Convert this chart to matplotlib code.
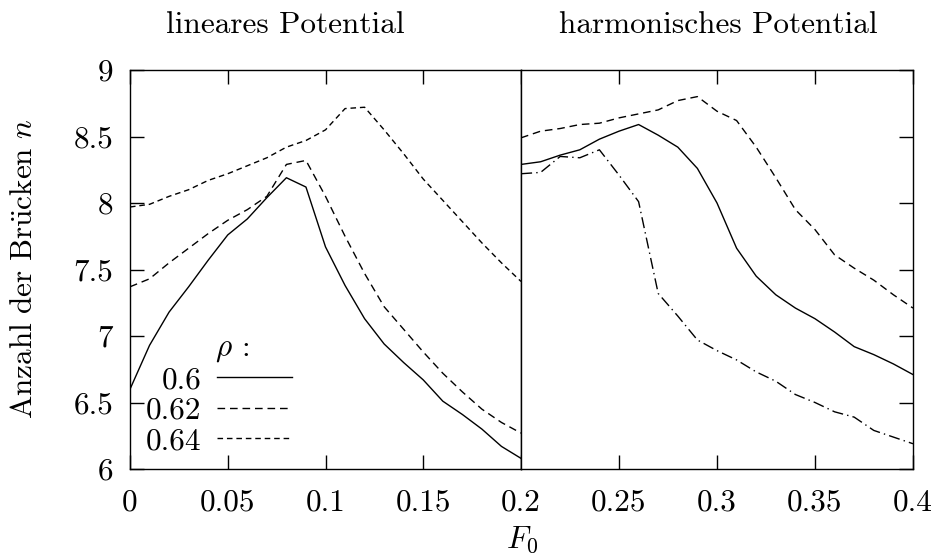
import numpy as np
import matplotlib
matplotlib.use("Agg")
import matplotlib.pyplot as plt

plt.rcParams['font.family'] = 'serif'
plt.rcParams['font.serif'] = ['cmr10']
plt.rcParams['mathtext.fontset'] = 'cm'
plt.rcParams['axes.unicode_minus'] = False

# linear potential, F0 = 0 .. 0.2
F_lin = [0.0, 0.01, 0.02, 0.03, 0.04, 0.05, 0.06, 0.07, 0.08, 0.09, 0.10,
         0.11, 0.12, 0.13, 0.14, 0.15, 0.16, 0.17, 0.18, 0.19, 0.20]
lin_060 = [6.60, 6.93, 7.18, 7.37, 7.57, 7.76, 7.88, 8.04, 8.19, 8.12, 7.67,
           7.38, 7.13, 6.94, 6.80, 6.67, 6.51, 6.41, 6.30, 6.17, 6.08]
lin_062 = [7.37, 7.43, 7.55, 7.66, 7.77, 7.87, 7.95, 8.05, 8.29, 8.32, 8.05,
           7.75, 7.47, 7.22, 7.05, 6.88, 6.72, 6.58, 6.45, 6.35, 6.27]
lin_064 = [7.97, 7.99, 8.05, 8.10, 8.17, 8.22, 8.28, 8.34, 8.42, 8.47, 8.55,
           8.71, 8.72, 8.55, 8.37, 8.18, 8.02, 7.86, 7.70, 7.55, 7.41]

# harmonic potential, F0 = 0.2 .. 0.4
F_harm = [0.20, 0.21, 0.22, 0.23, 0.24, 0.25, 0.26, 0.27, 0.28, 0.29, 0.30,
          0.31, 0.32, 0.33, 0.34, 0.35, 0.36, 0.37, 0.38, 0.39, 0.40]
harm_a = [8.29, 8.31, 8.36, 8.40, 8.48, 8.54, 8.59, 8.51, 8.42, 8.26, 8.00,
          7.66, 7.45, 7.31, 7.21, 7.13, 7.03, 6.92, 6.86, 6.79, 6.71]
harm_b = [8.49, 8.54, 8.56, 8.59, 8.60, 8.64, 8.67, 8.70, 8.77, 8.80, 8.69,
          8.62, 8.42, 8.19, 7.95, 7.80, 7.61, 7.51, 7.42, 7.31, 7.21]
harm_c = [8.22, 8.23, 8.35, 8.34, 8.40, 8.21, 8.01, 7.32, 7.15, 6.97, 6.89,
          6.82, 6.73, 6.66, 6.56, 6.50, 6.43, 6.39, 6.29, 6.24, 6.19]

rho_labels = ['0.6', '0.62', '0.64']
yticks = [6, 6.5, 7, 7.5, 8, 8.5, 9]
xticks_left = [0, 0.05, 0.1, 0.15, 0.2]
xticks_right = [0.25, 0.3, 0.35, 0.4]

fs = 22.5
long_dash = (0, (5.5, 3.5))
short_dash = (0, (4.0, 2.8))
dash_dot = (0, (8, 3, 1, 3))

fig = plt.figure(figsize=(9.38, 5.56), dpi=100)
ax1 = fig.add_axes([130/938, 1-469/556, 391/938, 399/556])
ax2 = fig.add_axes([521/938, 1-469/556, 392/938, 399/556])

ax1.plot(F_lin, lin_060, color='k', lw=1.0, ls='-', label=rho_labels[0])
ax1.plot(F_lin, lin_062, color='k', lw=1.0, ls=long_dash, label=rho_labels[1])
ax1.plot(F_lin, lin_064, color='k', lw=1.0, ls=short_dash, label=rho_labels[2])

ax2.plot(F_harm, harm_a, color='k', lw=1.0, ls='-')
ax2.plot(F_harm, harm_b, color='k', lw=1.0, ls=long_dash)
ax2.plot(F_harm, harm_c, color='k', lw=1.0, ls=dash_dot)

for ax in (ax1, ax2):
    ax.set_ylim(6, 9)
    ax.set_yticks(yticks)
    for s in ax.spines.values():
        s.set_linewidth(1.0)
    ax.tick_params(direction='in', length=10, width=1.0, labelsize=fs,
                   top=True, bottom=True, pad=14)

ax1.set_xlim(0, 0.2)
ax1.set_xticks(xticks_left)
ax1.set_xticklabels(['%g' % v for v in xticks_left])
ax1.set_yticklabels(['%g' % v for v in yticks])
ax1.tick_params(axis='y', left=True, right=False, pad=12)

ax2.set_xlim(0.2, 0.4)
ax2.set_xticks(xticks_right)
ax2.set_xticklabels(['%g' % v for v in xticks_right])
ax2.tick_params(axis='y', left=False, right=True, labelleft=False)

leg = ax1.legend(title=r'$\quad\rho\,:$', loc='lower left', bbox_to_anchor=(0.04, 0.035),
                 frameon=False, markerfirst=False, fontsize=fs, title_fontsize=fs,
                 handlelength=2.4, handletextpad=0.5, labelspacing=0.08,
                 borderpad=0, borderaxespad=0)

fig.text(285/938, 1-25/556, 'lineares Potential', fontsize=fs, ha='center', va='center')
fig.text(718/938, 1-25/556, 'harmonisches Potential', fontsize=fs, ha='center', va='center')
fig.text(24/938, 1-269/556, r'$\mathrm{Anzahl\ der\ Br\ddot{u}cken}\ n$', fontsize=fs,
         rotation=90, ha='center', va='center')
fig.text(522/938, 1-540/556, r'$F_0$', fontsize=fs, ha='center', va='center')

fig.savefig('out.png', dpi=100)
